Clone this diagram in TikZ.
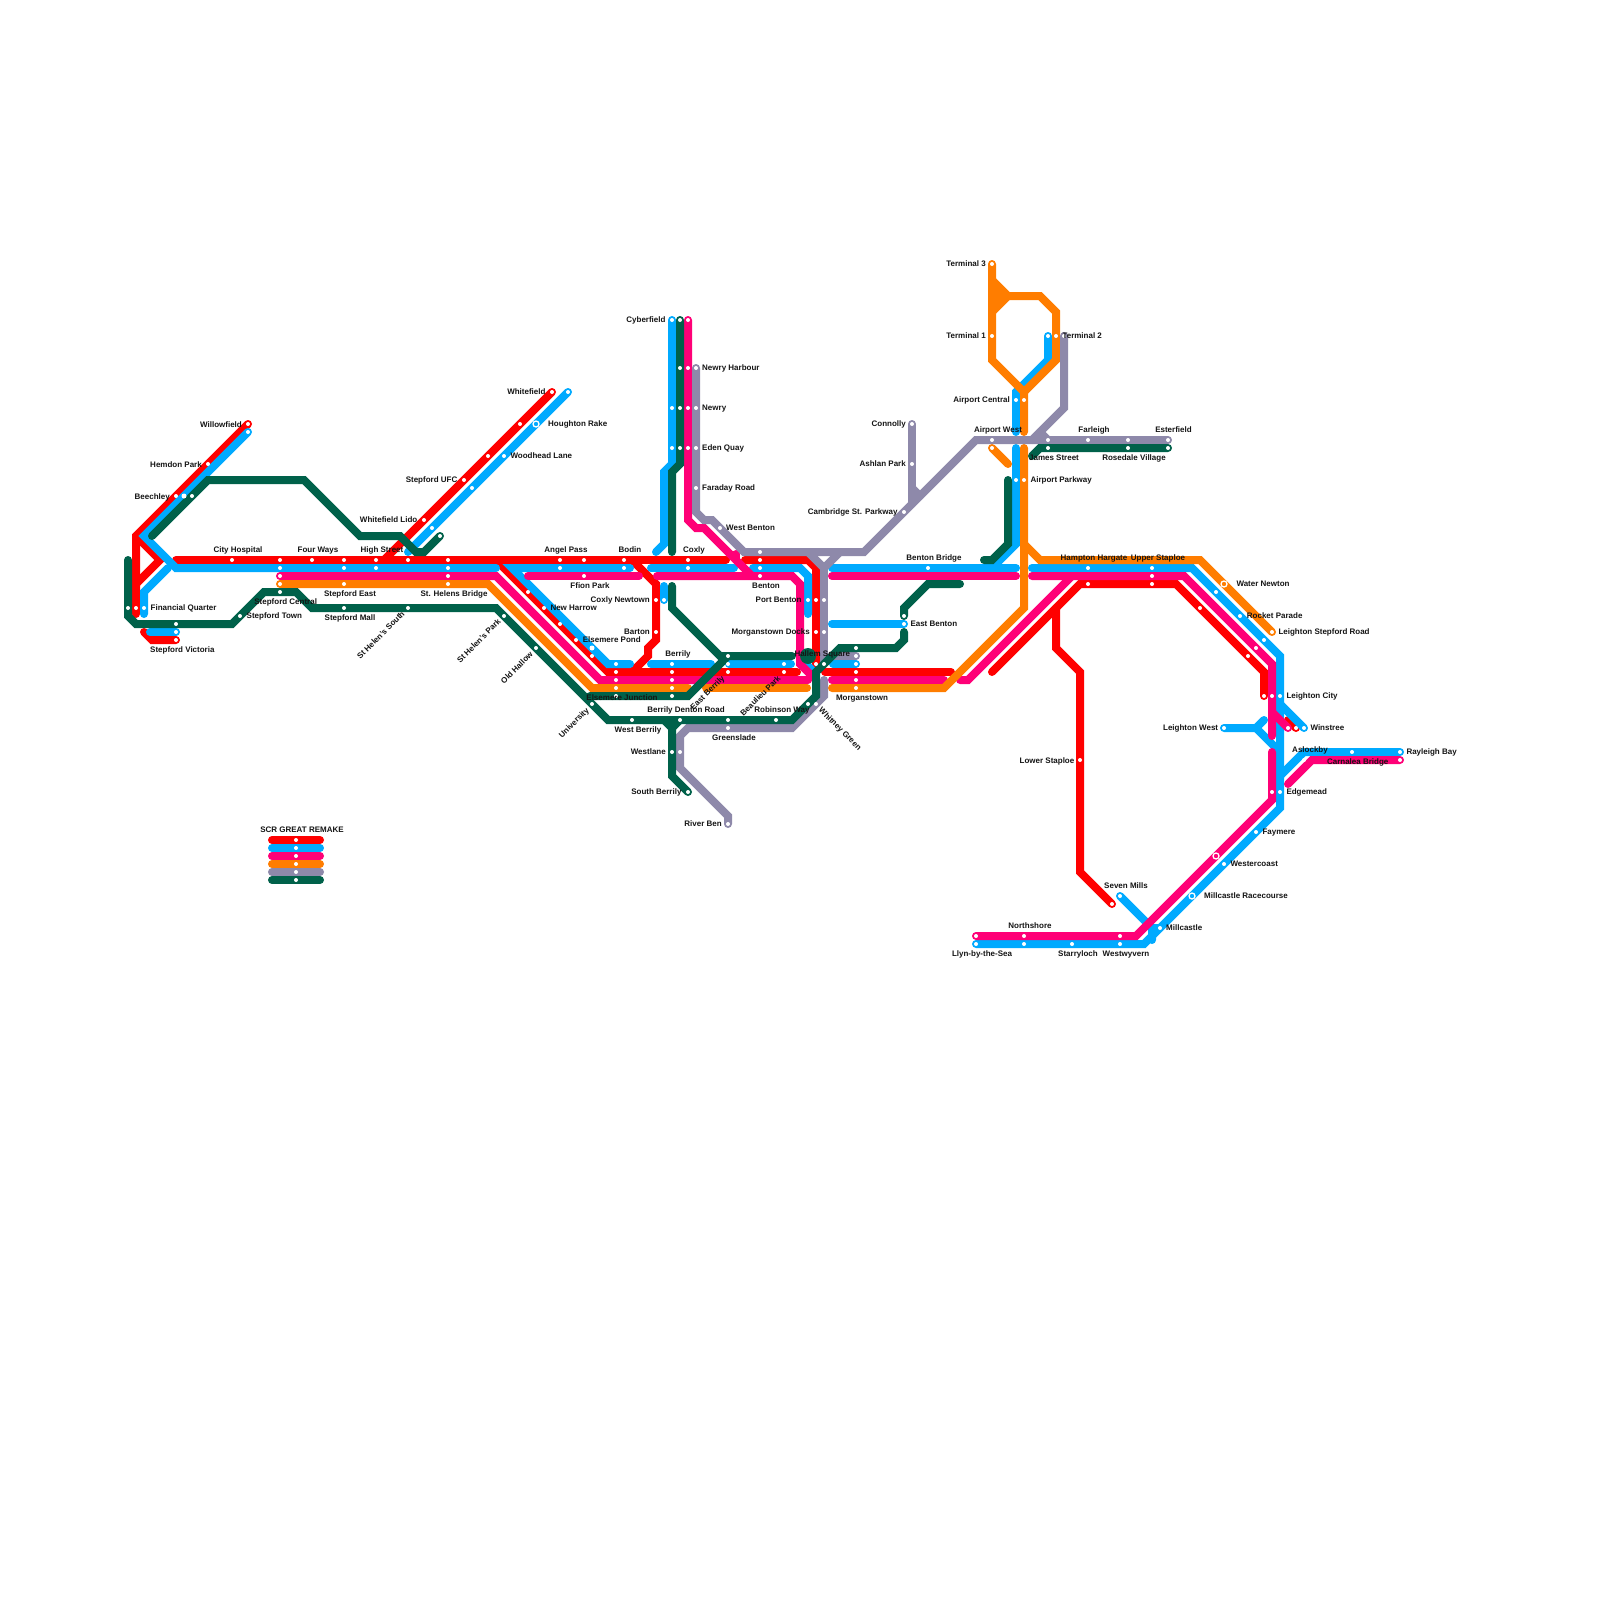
\documentclass[tikz,border=0pt]{standalone}
\usepackage{fontspec}
\setmainfont{Liberation Sans}
\definecolor{cred}{RGB}{255,0,0}
\definecolor{cblue}{RGB}{0,170,255}
\definecolor{cpink}{RGB}{255,0,119}
\definecolor{corange}{RGB}{255,125,0}
\definecolor{cgrey}{RGB}{142,137,170}
\definecolor{cgreen}{RGB}{0,97,74}
\tikzset{
  track/.style={line width=8pt,line cap=round,line join=miter,miter limit=4},
  redline/.style={track,draw=cred},
  blueline/.style={track,draw=cblue},
  pinkline/.style={track,draw=cpink},
  orangeline/.style={track,draw=corange},
  greyline/.style={track,draw=cgrey},
  greenline/.style={track,draw=cgreen},
  stop/.style={circle,fill=white,draw=none,inner sep=0pt,minimum size=4pt},
  bigstop/.style={circle,fill=white,draw=none,inner sep=0pt,minimum size=5pt},
  ringstop/.style={circle,draw=white,line width=1.3pt,inner sep=0pt,minimum size=6pt},
  lbl/.style={font=\bfseries\fontsize{8}{8}\selectfont,inner sep=0pt,text height=5.8pt,text depth=0pt,text=black!92,yshift=-0.9pt},
  lw/.style={lbl,anchor=west},
  le/.style={lbl,anchor=east},
  lc/.style={lbl,anchor=center},
}
\begin{document}
\begin{tikzpicture}[x=1pt,y=-1pt]
\useasboundingbox (0,0) rectangle (1600,1600);
% ---- way points
\foreach \n/\x/\y in {ra1/248/424,ra2/136/536,ra3/136/614,rb1/160/560,rb2/136/584,rc1/176/560,rc2/726/560,rd1/496/560,rd2/608/672,rd3/797/672,rd4/504/568,re1/552/392,re2/384/560,rf1/632/560,rf2/656/584,rf3/656/640,rf4/648/648,rf5/648/656,rf6/632/672,rg1/745/560,rg2/808/560,rg3/816/568,rg4/816/664,rh1/825/672,rh2/951/672,ri1/992/672,ri2/1080/584,ri3/1176/584,ri4/1264/672,ri5/1264/696,rj1/1056/608,rj2/1056/648,rj3/1080/672,rj4/1080/872,rj5/1112/904,rk1/144/632,rk2/152/640,rk3/176/640,rl1/1288/720,rl2/1296/728,rm1/504/560}
  \coordinate (\n) at (\x,\y);
\foreach \n/\x/\y in {ba1/248/432,ba2/144/536,ba3/176/568,ba4/496/568,bb1/168/568,bb2/144/592,bb3/144/614,bc1/150/632,bc2/176/632,bd1/568/392,bd2/408/552,be1/630/568,be2/512/568,be3/608/664,be4/630/664,bf1/651/664,bf2/711/664,bg1/729/664,bg2/791/664,bh1/802/660,bh2/814/672,bi1/833/664,bi2/856/664,bj1/651/568,bj2/734/568,bk1/753/568,bk2/800/568,bk3/808/576,bk4/808/614,bl1/832/568,bl2/1016/568,bm1/1016/448,bm2/1016/544,bm3/992/568,bn1/1032/568,bn2/1192/568,bn3/1280/656,bn4/1280/808,bn5/1144/944,bn6/976/944,bo1/1048/336,bo2/1048/360,bo3/1016/392,bo4/1016/432,bp1/672/320,bp2/672/464,bp3/664/472,bp4/664/544,bp5/656/552,bq1/664/586,bq2/664/600,br1/832/624,br2/904/624,bs1/1224/728,bs2/1256/728,bs3/1264/720,bs4/1280/752,bt1/1280/704,bt2/1304/728,bu1/1400/752,bu2/1304/752,bu3/1280/776,bv1/1120/896,bv2/1152/928,bv3/1152/940,bv4/1160/928}
  \coordinate (\n) at (\x,\y);
\foreach \n/\x/\y in {pa1/280/576,pa2/496/576,pa3/600/680,pa4/808/680,pb1/528/576,pb2/639/576,pc1/657/576,pc2/792/576,pc3/800/584,pc4/800/664,pc5/816/680,pd1/688/320,pd2/688/520,pd3/696/528,pd4/704/528,pd5/752/576,pd6/736/554,pd7/736/560,pe1/832/680,pe2/944/680,pf1/960/680,pf2/968/680,pf3/1072/576,pg1/832/576,pg2/1016/576,ph1/1032/576,ph2/1184/576,ph3/1272/664,ph4/1272/736,pi1/1272/712,pi2/1288/728,pj1/1272/752,pj2/1272/800,pj3/1136/936,pj4/976/936,pk1/1288/784,pk2/1312/760,pk3/1400/760}
  \coordinate (\n) at (\x,\y);
\foreach \n/\x/\y in {oa1/280/584,oa2/488/584,oa3/592/688,oa4/688/688,ob1/706/688,ob2/807/688,oc1/832/688,oc2/944/688,oc3/1024/608,oc4/1024/448,od1/1024/544,od2/1040/560,od3/1200/560,od4/1272/632,oe1/992/264,oe2/992/360,oe3/1024/392,oe4/1024/432,of1/1056/360,of2/1056/312,of3/1040/296,of4/1008/296,og1/992/280,og2/992/312,oh1/992/448,oh2/1008/464}
  \coordinate (\n) at (\x,\y);
\foreach \n/\x/\y in {ga1/696/368,ga2/696/512,ga3/704/520,ga4/712/520,ga5/744/552,ga6/864/552,ga7/976/440,ga8/1168/440,gb1/808/552,gb2/824/568,gb3/840/552,gc1/824/664,gd1/824/680,gd2/824/696,gd3/792/728,gd4/688/728,gd5/680/736,gd6/680/768,gd7/728/816,gd8/728/824,ge1/912/424,ge2/912/504,gf1/912/488,gf2/920/496,gg1/1064/336,gg2/1064/408,gg3/1032/440,gh1/1040/432,gh2/1048/440,gi1/832/656,gi2/856/656}
  \coordinate (\n) at (\x,\y);
\foreach \n/\x/\y in {na1/128/560,na2/128/616,na3/136/624,na4/232/624,na5/264/592,na6/296/592,na7/312/608,na8/496/608,na9/608/720,na10/792/720,na11/816/696,na12/816/672,na13/840/648,na14/896/648,na15/904/640,na16/904/632,nb1/152/536,nb2/208/480,nb3/304/480,nb4/360/536,nb5/400/536,nb6/416/552,nb7/424/552,nb8/440/536,nc1/680/320,nc2/680/464,nc3/672/472,nc4/672/552,nd1/672/586,nd2/672/608,nd3/720/656,nd4/792/656,ne1/728/656,ne2/688/696,ne3/590/696,nf1/672/720,nf2/672/776,nf3/688/792,ng1/664/720,ng2/672/728,ng3/680/720,nh0/904/616,nh1/904/608,nh2/928/584,nh3/960/584,ni1/1168/448,ni2/1040/448,ni3/1032/456,nj1/1008/480,nj2/1008/544,nj3/992/560,nj4/984/560}
  \coordinate (\n) at (\x,\y);
\foreach \n/\x/\y in {key1a/272/840,key1b/320/840,key2a/272/848,key2b/320/848,key3a/272/856,key3b/320/856,key4a/272/864,key4b/320/864,key5a/272/872,key5b/320/872,key6a/272/880,key6b/320/880}
  \coordinate (\n) at (\x,\y);
% ---- red
\draw[redline] (ra1)--(ra2)--(ra3);
\draw[redline] (ra2)--(rb1)--(rb2);
\draw[redline] (rc1)--(rc2);
\draw[redline] (rd1)--(rd2)--(rd3);
\draw[redline] (rm1)--(rd4);
\draw[redline] (re1)--(re2);
\draw[redline] (rf1)--(rf2)--(rf3)--(rf4)--(rf5)--(rf6);
\draw[redline] (rg1)--(rg2)--(rg3)--(rg4);
\draw[redline] (rh1)--(rh2);
\draw[redline] (ri1)--(ri2)--(ri3)--(ri4)--(ri5);
\draw[redline] (rj1)--(rj2)--(rj3)--(rj4)--(rj5);
\draw[redline] (rk1)--(rk2)--(rk3);
\draw[redline] (rl1)--(rl2);
% ---- blue
\draw[blueline] (ba1)--(ba2)--(ba3)--(ba4);
\draw[blueline] (bb1)--(bb2)--(bb3);
\draw[blueline] (bc1)--(bc2);
\draw[blueline] (bd1)--(bd2);
\draw[blueline] (be1)--(be2)--(be3)--(be4);
\draw[blueline] (bf1)--(bf2);
\draw[blueline] (bg1)--(bg2);
\draw[blueline] (bh1)--(bh2);
\draw[blueline] (bi1)--(bi2);
\draw[blueline] (bj1)--(bj2);
\draw[blueline] (bk1)--(bk2)--(bk3)--(bk4);
\draw[blueline] (bl1)--(bl2);
\draw[blueline] (bm1)--(bm2)--(bm3);
\draw[blueline] (bn1)--(bn2)--(bn3)--(bn4)--(bn5)--(bn6);
\draw[blueline] (bo1)--(bo2)--(bo3)--(bo4);
\draw[blueline] (bp1)--(bp2)--(bp3)--(bp4)--(bp5);
\draw[blueline] (bq1)--(bq2);
\draw[blueline] (br1)--(br2);
\draw[blueline] (bs1)--(bs2)--(bs3);
\draw[blueline] (bs2)--(bs4);
\draw[blueline] (bt1)--(bt2);
\draw[blueline] (bu1)--(bu2)--(bu3);
\draw[blueline] (bv1)--(bv2)--(bv3);
\draw[blueline] (bv2)--(bv4);
% ---- pink
\draw[pinkline] (pa1)--(pa2)--(pa3)--(pa4);
\draw[pinkline] (pb1)--(pb2);
\draw[pinkline] (pc1)--(pc2)--(pc3)--(pc4)--(pc5);
\draw[pinkline] (pd1)--(pd2)--(pd3)--(pd4)--(pd5);
\draw[pinkline] (pd6)--(pd7);
\draw[pinkline] (pe1)--(pe2);
\draw[pinkline] (pf1)--(pf2)--(pf3);
\draw[pinkline] (pg1)--(pg2);
\draw[pinkline] (ph1)--(ph2)--(ph3)--(ph4);
\draw[pinkline] (pi1)--(pi2);
\draw[pinkline] (pj1)--(pj2)--(pj3)--(pj4);
\draw[pinkline] (pk1)--(pk2)--(pk3);
% ---- orange
\draw[orangeline] (oa1)--(oa2)--(oa3)--(oa4);
\draw[orangeline] (ob1)--(ob2);
\draw[orangeline] (oc1)--(oc2)--(oc3)--(oc4);
\draw[orangeline] (od1)--(od2)--(od3)--(od4);
\draw[orangeline] (oe1)--(oe2)--(oe3)--(oe4);
\draw[orangeline] (oe3)--(of1)--(of2)--(of3)--(of4);
\draw[orangeline,fill=corange] (og1)--(of4)--(og2)--cycle;
\draw[orangeline] (oh1)--(oh2);
% ---- grey
\draw[greyline] (ga1)--(ga2)--(ga3)--(ga4)--(ga5)--(ga6)--(ga7)--(ga8);
\draw[greyline] (gb1)--(gb2)--(gb3);
\draw[greyline] (gb2)--(gc1);
\draw[greyline] (gd1)--(gd2)--(gd3)--(gd4)--(gd5)--(gd6)--(gd7)--(gd8);
\draw[greyline] (ge1)--(ge2);
\draw[greyline] (gf1)--(gf2);
\draw[greyline] (gg1)--(gg2)--(gg3);
\draw[greyline] (gh1)--(gh2);
\draw[greyline] (gi1)--(gi2);
% ---- green
\draw[greenline] (na1)--(na2)--(na3)--(na4)--(na5)--(na6)--(na7)--(na8)--(na9)--(na10)--(na11)--(na12)--(na13)--(na14)--(na15)--(na16);
\draw[greenline] (nb1)--(nb2)--(nb3)--(nb4)--(nb5)--(nb6)--(nb7)--(nb8);
\draw[greenline] (nc1)--(nc2)--(nc3)--(nc4);
\draw[greenline] (nd1)--(nd2)--(nd3)--(nd4);
\draw[greenline] (ne1)--(ne2)--(ne3);
\draw[greenline] (nf1)--(nf2)--(nf3);
\draw[greenline] (ng1)--(ng2)--(ng3);
\draw[greenline] (nh0)--(nh1)--(nh2)--(nh3);
\draw[greenline] (ni1)--(ni2)--(ni3);
\draw[greenline] (nj1)--(nj2)--(nj3)--(nj4);
\node[circle,fill=cgreen,inner sep=0pt,minimum size=16pt] (hallemhub) at (808,656) {};
% ---- key bars
\draw[redline] (key1a)--(key1b);
\draw[blueline] (key2a)--(key2b);
\draw[pinkline] (key3a)--(key3b);
\draw[orangeline] (key4a)--(key4b);
\draw[greyline] (key5a)--(key5b);
\draw[greenline] (key6a)--(key6b);
% ---- plain stops
\foreach \x/\y in {248/424,208/464,176/496,136/608,176/640,232/560,280/560,312/560,344/560,376/560,408/560,448/560,560/560,584/560,624/560,688/560,760/560,552/392,520/424,488/456,464/480,424/520,528/592,544/608,560/624,576/640,592/656,616/672,672/672,728/672,784/672,656/600,656/632,816/600,816/632,816/664,856/672,1088/584,1152/584,1200/608,1248/656,1264/696,1288/728,1296/728,1112/904,1080/760,
248/432,144/608,176/632,280/568,344/568,376/568,448/568,560/568,624/568,688/568,760/568,928/568,1088/568,1152/568,568/392,504/456,472/488,432/528,616/664,672/664,728/664,784/664,856/664,664/600,808/600,904/624,672/320,672/408,672/448,1048/336,1016/400,1016/480,1216/592,1240/616,1264/640,1280/696,1304/728,1224/728,1280/792,1256/832,1224/864,1160/928,1120/896,976/944,1024/944,1072/944,1120/944,1400/752,1352/752,1304/760,
280/576,448/576,584/576,760/576,1152/576,688/320,688/368,688/408,688/448,616/680,672/680,856/680,1272/696,1256/648,1272/792,976/936,1024/936,1120/936,1400/760,
280/584,344/584,448/584,616/688,672/688,856/688,992/264,992/336,1056/336,1024/400,1024/480,992/448,1272/632,
696/368,696/408,696/448,696/488,720/528,760/552,824/600,824/632,824/664,856/656,816/704,728/728,680/752,728/824,912/424,912/464,904/512,1064/336,992/440,1048/440,1088/440,1128/440,1168/440,
128/608,176/624,240/616,280/592,344/608,408/608,504/616,536/648,592/704,632/720,680/720,728/720,776/720,808/704,616/696,672/696,728/656,856/648,904/616,680/320,680/368,680/408,680/448,192/496,440/536,672/752,688/792,1048/448,1128/448,1168/448,
296/840,296/848,296/856,296/864,296/872,296/880}
  \node[stop] (s\x x\y) at (\x,\y) {};
\node[bigstop] (beechleyblue) at (184,496) {};
\node[bigstop] (elsemereblue) at (592,648) {};
\node[ringstop,fill=cblue] (houghton) at (536,424) {};
\node[ringstop,fill=corange] (waternewton) at (1224,584) {};
\node[ringstop,fill=cpink] (westercoastpink) at (1216,856) {};
\node[ringstop,fill=cblue] (racecourse) at (1192,896) {};
% ---- labels
\node[le] (t1) at (242,423.5) {Willowfield};
\node[le] (t2) at (202,463.5) {Hemdon Park};
\node[le] (t3) at (170,495.5) {Beechley};
\node[lc] (t4) at (238,549) {City Hospital};
\node[lc] (t5) at (318,549) {Four Ways};
\node[lc] (t6) at (382,549) {High Street};
\node[le] (t7) at (417.5,519) {Whitefield Lido};
\node[le] (t8) at (457.5,479) {Stepford UFC};
\node[lw] (t9) at (150.5,607) {Financial Quarter};
\node[lw] (t10) at (150,649) {Stepford Victoria};
\node[lc] (t11) at (285.7,601) {Stepford Central};
\node[lw] (t12) at (246.5,615) {Stepford Town};
\node[lc] (t13) at (350,593) {Stepford East};
\node[lc] (t14) at (350,617) {Stepford Mall};
\node[lc] (t15) at (454,593) {St. Helens Bridge};
\node[lc,rotate=45] (t16) at (380.7,634) {St Helen's South};
\node[lc,rotate=45] (t17) at (478.7,640) {St Helen's Park};
\node[lc,rotate=45] (t18) at (516.7,666.7) {Old Hallow};
\node[lc,rotate=45] (t19) at (573.7,721.7) {University};
\node[le] (t20) at (545.7,391) {Whitefield};
\node[lw] (t21) at (548,423) {Houghton Rake};
\node[lw] (t22) at (510.3,455) {Woodhead Lane};
\node[lc] (t23) at (566,549) {Angel Pass};
\node[lc] (t24) at (630,549) {Bodin};
\node[lc] (t25) at (590,585) {Ffion Park};
\node[lw] (t26) at (550.3,607) {New Harrow};
\node[le] (t27) at (650,599) {Coxly Newtown};
\node[le] (t28) at (650,631) {Barton};
\node[lw] (t29) at (582.7,639) {Elsemere Pond};
\node[lc] (t30) at (678,653) {Berrily};
\node[lc] (t31) at (622,697) {Elsemere Junction};
\node[lc] (t32) at (638,729) {West Berrily};
\node[lc] (t33) at (686,709) {Berrily Denton Road};
\node[lc] (t34) at (734,737) {Greenslade};
\node[le] (t35) at (666,751) {Westlane};
\node[le] (t36) at (681.7,791) {South Berrily};
\node[le] (t37) at (722,823) {River Ben};
\node[lc] (t38) at (782,709) {Robinson Way};
\node[lc,rotate=-45] (t39) at (840.3,727.7) {Whitney Green};
\node[lc,rotate=45] (t40) at (760.3,694.7) {Beaulieu Park};
\node[lc,rotate=45] (t41) at (707.3,691.7) {East Berrily};
\node[lc] (t42) at (822.3,653) {Hallem Square};
\node[le] (t43) at (810,631) {Morganstown Docks};
\node[le] (t44) at (801.7,599) {Port Benton};
\node[lc] (t45) at (766,585) {Benton};
\node[lc] (t46) at (862,697) {Morganstown};
\node[lw] (t47) at (910.3,623) {East Benton};
\node[lc] (t48) at (934,557) {Benton Bridge};
\node[le] (t49) at (897.7,511) {Cambridge St. Parkway};
\node[le] (t50) at (665.7,319) {Cyberfield};
\node[lw] (t51) at (702,367) {Newry Harbour};
\node[lw] (t52) at (702,407) {Newry};
\node[lw] (t53) at (702,447) {Eden Quay};
\node[lw] (t54) at (702,487) {Faraday Road};
\node[lw] (t55) at (726,527) {West Benton};
\node[lc] (t56) at (694,549) {Coxly};
\node[le] (t57) at (906,423) {Connolly};
\node[le] (t58) at (906,463) {Ashlan Park};
\node[le] (t59) at (986,263) {Terminal 3};
\node[le] (t60) at (986,335) {Terminal 1};
\node[lw] (t61) at (1062.3,335) {Terminal 2};
\node[le] (t62) at (1010,399) {Airport Central};
\node[lc] (t63) at (998,429) {Airport West};
\node[lc] (t64) at (1094,429) {Farleigh};
\node[lc] (t65) at (1173.5,429) {Esterfield};
\node[lc] (t66) at (1054,457) {James Street};
\node[lc] (t67) at (1134,457) {Rosedale Village};
\node[lw] (t68) at (1030.3,479) {Airport Parkway};
\node[lc] (t69) at (1094,557) {Hampton Hargate};
\node[lc] (t70) at (1158,557) {Upper Staploe};
\node[lw] (t71) at (1236.3,583) {Water Newton};
\node[lw] (t72) at (1246.7,615) {Rocket Parade};
\node[lw] (t73) at (1278.3,631) {Leighton Stepford Road};
\node[lw] (t74) at (1286.3,695) {Leighton City};
\node[lw] (t75) at (1310.3,727) {Winstree};
\node[le] (t76) at (1218.3,727) {Leighton West};
\node[lw] (t77) at (1406.3,751) {Rayleigh Bay};
\node[lc] (t78) at (1357.7,761) {Carnalea Bridge};
\node[lc] (t79) at (1310,749) {Aslockby};
\node[lw] (t80) at (1286.3,791) {Edgemead};
\node[lw] (t81) at (1262.3,831) {Faymere};
\node[lw] (t82) at (1230.3,863) {Westercoast};
\node[lw] (t83) at (1204,895) {Millcastle Racecourse};
\node[lw] (t84) at (1166,927) {Millcastle};
\node[lc] (t85) at (1126,885) {Seven Mills};
\node[lc] (t86) at (1030,925) {Northshore};
\node[lc] (t87) at (982,953) {Llyn-by-the-Sea};
\node[lc] (t88) at (1078,953) {Starryloch};
\node[lc] (t89) at (1126,953) {Westwyvern};
\node[le] (t90) at (1074.5,759.5) {Lower Staploe};
\node[lc] (t91) at (302,829) {SCR GREAT REMAKE};
\end{tikzpicture}
\end{document}
